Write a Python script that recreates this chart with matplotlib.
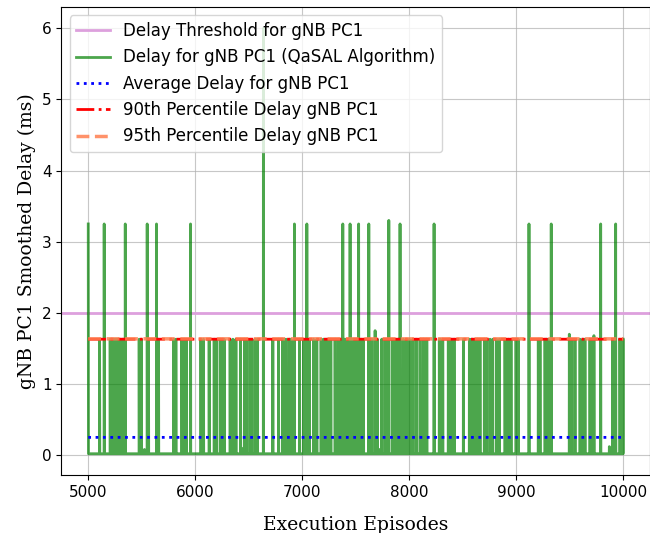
import numpy as np
import matplotlib
matplotlib.use("Agg")
import matplotlib.pyplot as plt

# --- data ---
first_episode = 5000
last_episode = 10000
baseline_delay = 0.02
delay_threshold = 2.0
avg_delay = 0.25
p90_delay = 1.63
p95_delay = 1.635

# single-episode spikes to the ~1.63 ms level
spikes_mid = [5106, 5476, 5495, 5563, 5657, 5797, 5819, 5875, 5897, 5915,
              6053, 6077, 6130, 6177, 6196, 6233, 6254, 6270, 6326, 6352,
              6380, 6423, 6460, 6482, 6513, 6529, 6560, 6581, 6725, 6778,
              6815, 6834, 6849, 6880, 6896, 6974, 7011, 7067, 7105, 7136,
              7176, 7198, 7223, 7245, 7267, 7307, 7338, 7550, 7572, 7650,
              7702, 7743, 7774, 7796, 7846, 7868, 7898, 7945, 7977, 8001,
              8033, 8064, 8101, 8132, 8164, 8235, 8281, 8288, 8313, 8365,
              8375, 8397, 8419, 8506, 8562, 8578, 8593, 8608, 8640, 8661,
              8702, 8724, 8755, 8780, 8817, 8842, 8895, 8911, 8926, 8951,
              8998, 9019, 9206, 9222, 9269, 9284, 9300, 9518, 9549, 9596,
              9621, 9642, 9689, 9705, 9901, 9913, 9969, 9995, 10000]
# busy stretches (near solid blocks of spikes)
spikes_block_a = [5205, 5215, 5222, 5232, 5240, 5251, 5260, 5268, 5279,
                  5288, 5297, 5305, 5316, 5324, 5330]
spikes_block_b = [7356, 7364, 7372, 7385, 7392, 7400, 7410, 7420, 7428,
                  7436, 7455, 7462, 7470, 7480, 7490, 7500, 7510]
spike_mid_value = 1.63

# taller spikes (episode, delay)
tall_episodes = [5000, 5149, 5346, 5551, 5638, 5956, 6637, 6927, 7043, 7379,
                 7447, 7527, 7622, 7809, 7914, 8232, 9119, 9327, 9789, 9929,
                 7681, 9496, 9726]
tall_values = [3.25, 3.25, 3.25, 3.25, 3.25, 3.25, 6.0, 3.25, 3.25, 3.25,
               3.25, 3.25, 3.25, 3.30, 3.25, 3.25, 3.25, 3.25, 3.25, 3.25,
               1.75, 1.70, 1.68]

# small humps on the baseline
bump_episodes = [5270, 5525, 6450, 7620, 7720, 9870]
bump_values = [0.10, 0.08, 0.10, 0.08, 0.08, 0.12]

episodes = np.arange(first_episode, last_episode + 1)
delay = np.full(episodes.shape, baseline_delay)
for ep, v in zip(bump_episodes, bump_values):
    delay[ep - first_episode] = v
for ep in spikes_mid + spikes_block_a + spikes_block_b:
    delay[ep - first_episode] = spike_mid_value
for ep, v in zip(tall_episodes, tall_values):
    delay[ep - first_episode] = v

# --- plot ---
fig = plt.figure(figsize=(6.5, 5.33), dpi=100)
ax = fig.add_axes([0.0946, 0.1088, 0.9054, 0.878])

ax.axhline(delay_threshold, color="plum", linewidth=2,
           label="Delay Threshold for gNB PC1")
ax.plot(episodes, delay, color="green", alpha=0.7, linewidth=2,
        label="Delay for gNB PC1 (QaSAL Algorithm)")
ax.plot(episodes, np.full(episodes.shape, avg_delay), color="blue",
        linestyle=":", linewidth=2, label="Average Delay for gNB PC1")
ax.plot(episodes, np.full(episodes.shape, p90_delay), color="red",
        linestyle="-.", linewidth=2, label="90th Percentile Delay gNB PC1")
ax.plot(episodes, np.full(episodes.shape, p95_delay), color="coral",
        linestyle="--", linewidth=2.5, alpha=0.85,
        label="95th Percentile Delay gNB PC1")

ax.set_xlabel("Execution Episodes", family="serif", fontsize=13.5, labelpad=12)
ax.set_ylabel("gNB PC1 Smoothed Delay (ms)", family="serif", fontsize=13.5)
ax.tick_params(labelsize=11)
ax.grid(True, alpha=0.7)
ax.legend(loc="upper left", fontsize=12)

fig.savefig("out.png", dpi=100)
